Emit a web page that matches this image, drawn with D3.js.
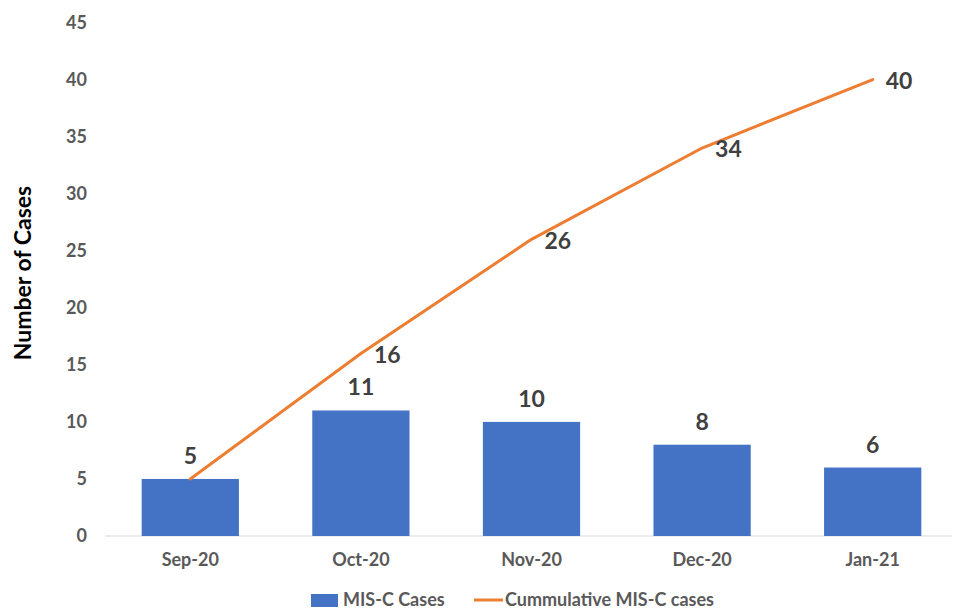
<!DOCTYPE html>
<html><head><meta charset="utf-8">
<script src="https://cdn.jsdelivr.net/npm/d3@7"></script>
<style>body{margin:0;background:#fff;} svg{display:block;font-family:Lato,"Open Sans",sans-serif;}</style>
</head><body>
<svg id="c" width="956" height="614"></svg>
<script>
const categories = ["Sep-20","Oct-20","Nov-20","Dec-20","Jan-21"];
const monthlyCases = [5,11,10,8,6];
const cumulativeCases = [5,16,26,34,40];
const yTicks = [0,5,10,15,20,25,30,35,40,45];
const seriesNames = ["MIS-C Cases","Cummulative MIS-C cases"];

const svg = d3.select("#c");
const x = d3.scaleBand().domain(categories).range([105,958]).paddingInner(0.43).paddingOuter(0.215);
const y = d3.scaleLinear().domain([0,45]).range([536,22.5]);
const blue = "#4472C4", orange = "#ED7D31";

// y axis labels
const yAxis = svg.append("g").attr("transform","translate(87,0)")
  .call(d3.axisLeft(y).tickValues(yTicks).tickSize(0).tickPadding(0));
yAxis.select(".domain").remove();
yAxis.selectAll("text").attr("font-size",18).attr("font-weight","bold").attr("fill","#595959").attr("font-family","Lato,sans-serif");

// x axis
const xAxis = svg.append("g").attr("transform","translate(0,536)")
  .call(d3.axisBottom(x).tickSize(0).tickPadding(17));
xAxis.select(".domain").attr("stroke","#d9d9d9").attr("stroke-width",1.2).attr("d","M105,0H952");
xAxis.selectAll("text").attr("font-size",18).attr("font-weight","bold").attr("fill","#595959").attr("font-family","Lato,sans-serif");

// axis title
svg.append("text").attr("transform","translate(31,273) rotate(-90)").attr("text-anchor","middle")
  .attr("font-size",23).attr("font-weight","bold").attr("fill","#000").text("Number of Cases");

// bars
svg.append("g").selectAll("rect").data(categories).join("rect")
  .attr("x",d=>x(d)).attr("width",x.bandwidth())
  .attr("y",(d,i)=>y(monthlyCases[i])).attr("height",(d,i)=>y(0)-y(monthlyCases[i]))
  .attr("fill",blue);

// bar labels
svg.append("g").selectAll("text").data(categories).join("text")
  .attr("x",d=>x(d)+x.bandwidth()/2).attr("y",(d,i)=>y(monthlyCases[i])-15)
  .attr("text-anchor","middle").attr("font-size",23).attr("font-weight","bold").attr("fill","#404040")
  .text((d,i)=>monthlyCases[i]);

// line
const line = d3.line().x(d=>x(d[0])+x.bandwidth()/2).y(d=>y(d[1]));
svg.append("path").datum(categories.map((c,i)=>[c,cumulativeCases[i]]))
  .attr("d",line).attr("fill","none").attr("stroke",orange).attr("stroke-width",3)
  .attr("stroke-linejoin","round").attr("stroke-linecap","round");

// line labels (right)
svg.append("g").selectAll("text").data(categories.slice(1)).join("text")
  .attr("x",d=>x(d)+x.bandwidth()/2+13).attr("y",(d,i)=>y(cumulativeCases[i+1])+1)
  .attr("dy","0.36em").attr("font-size",23).attr("font-weight","bold").attr("fill","#404040")
  .text((d,i)=>cumulativeCases[i+1]);

// legend
const lg = svg.append("g").attr("font-size",18).attr("font-weight","bold").attr("fill","#595959");
lg.append("rect").attr("x",311).attr("y",594).attr("width",27).attr("height",13).attr("fill",blue);
lg.append("text").attr("x",343).attr("y",600).attr("dy","0.36em").text(seriesNames[0]);
lg.append("line").attr("x1",474).attr("x2",503).attr("y1",600).attr("y2",600).attr("stroke",orange).attr("stroke-width",3);
lg.append("text").attr("x",505).attr("y",600).attr("dy","0.36em").text(seriesNames[1]);
</script>
</body></html>
